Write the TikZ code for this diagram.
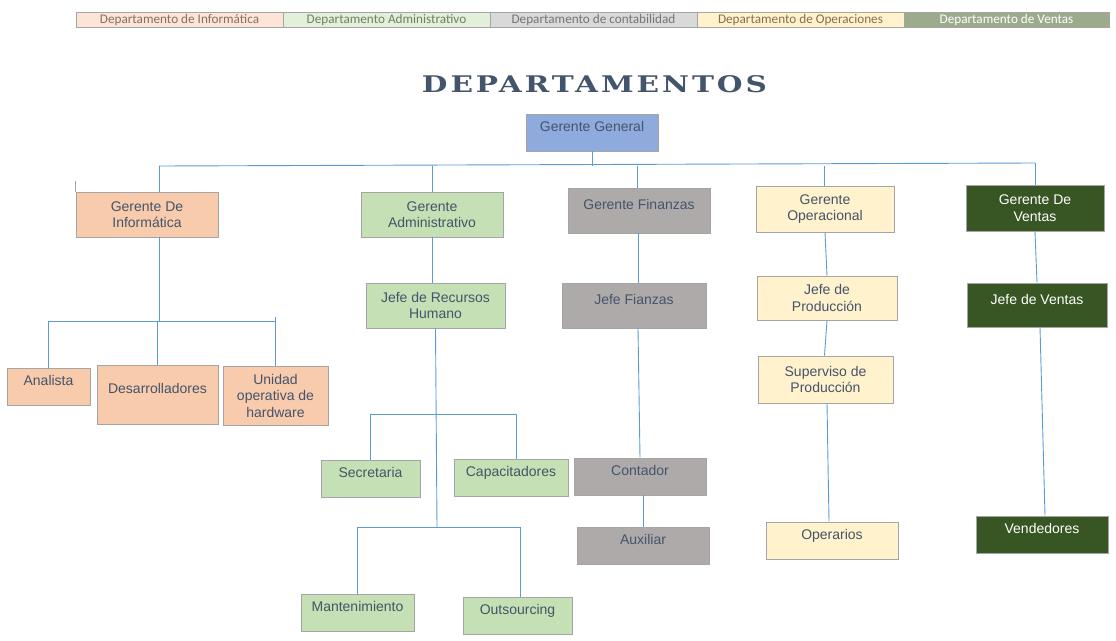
\documentclass[tikz,border=0pt]{standalone}
\usepackage{fontspec}
\usepackage{graphicx}
\setmainfont{Liberation Sans}
\newfontfamily\legfont{Carlito}
\newfontfamily\titfont[LetterSpace=10]{DejaVu Serif}
\definecolor{texto}{HTML}{44546A}
\definecolor{borde}{HTML}{A5A5A5}
\definecolor{azul}{HTML}{5B9BD5}
\definecolor{ggc}{HTML}{8FAADC}
\definecolor{infc}{HTML}{F8CBAD}
\definecolor{admc}{HTML}{C5E0B4}
\definecolor{finc}{HTML}{AEAAAA}
\definecolor{opec}{HTML}{FFF2CC}
\definecolor{venc}{HTML}{375623}
\definecolor{leginf}{HTML}{FCE4D6}
\definecolor{legadm}{HTML}{E2EFDA}
\definecolor{legcon}{HTML}{D9D9D9}
\definecolor{legven}{HTML}{9CAB8C}
\definecolor{legtinf}{HTML}{8C6E62}
\definecolor{legtadm}{HTML}{6E8262}
\definecolor{legtcon}{HTML}{757575}
\definecolor{legtope}{HTML}{85704A}
\begin{document}
\begin{tikzpicture}[
        x=1pt,y=-1pt,
        caja/.style 2 args={draw=borde,line width=.8pt,minimum width=#1pt,minimum height=#2pt,
            inner sep=0pt,align=center,text=texto,font=\fontsize{14}{16.5}\selectfont},
        alto/.style={text height=10pt,text depth=12pt},
        linea/.style={draw=azul,line width=.9pt},
        leg/.style={draw=borde,line width=.6pt,minimum width=207pt,minimum height=15pt,
            inner sep=0pt,font=\legfont\fontsize{13.2}{14}\selectfont},
        ]
        \useasboundingbox (0,0) rectangle (1116,640);
        % leyenda
        \node[leg,fill=leginf,text=legtinf] (l1) at (179.5,19.5) {Departamento de Informática};
        \node[leg,fill=legadm,text=legtadm] (l2) at (386.5,19.5) {Departamento Administrativo};
        \node[leg,fill=legcon,text=legtcon] (l3) at (593.5,19.5) {Departamento de contabilidad};
        \node[leg,fill=opec,text=legtope] (l4) at (800.5,19.5) {Departamento de Operaciones};
        \node[leg,fill=legven,text=white,minimum width=205pt] (l5) at (1006.5,19.5) {Departamento de Ventas};
        \node[text=texto,inner sep=0pt] (tit) at (594.5,84.5) {\resizebox{345pt}{17pt}{\titfont\bfseries DEPARTAMENTOS}};
        % cajas
        \node[caja={132}{37},alto,fill=ggc] (gg) at (592,132.5) {Gerente General};
        \node[caja={142}{45},fill=infc] (ginf) at (147,214.5) {Gerente De\\Informática};
        \node[caja={142}{45},fill=admc] (gadm) at (432,214.5) {Gerente\\Administrativo};
        \node[caja={142}{45},alto,fill=finc] (gfin) at (639,210.5) {Gerente Finanzas};
        \node[caja={138}{46},fill=opec] (gope) at (825,209) {Gerente\\Operacional};
        \node[caja={138}{46},fill=venc,text=white] (gven) at (1035,208) {Gerente De\\Ventas};
        \node[caja={83}{37},alto,fill=infc] (ana) at (48.5,386.5) {Analista};
        \node[caja={121}{59},alto,fill=infc] (des) at (157.5,394.5) {Desarrolladores};
        \node[caja={105}{59},fill=infc] (uni) at (275.5,395.5) {Unidad\\operativa de\\hardware};
        \node[caja={139}{45},fill=admc] (jrh) at (435.5,305.5) {Jefe de Recursos\\Humano};
        \node[caja={99}{37},alto,fill=admc] (sec) at (370.5,478.5) {Secretaria};
        \node[caja={114}{37},alto,fill=admc] (cap) at (511,477.5) {Capacitadores};
        \node[caja={113}{37},alto,fill=admc] (man) at (357.5,612.5) {Mantenimiento};
        \node[caja={109}{37},alto,fill=admc] (out) at (517.5,615.5) {Outsourcing};
        \node[caja={144}{45},alto,fill=finc] (jfin) at (634,305.5) {Jefe Fianzas};
        \node[caja={132}{37},alto,fill=finc] (cont) at (640,476.5) {Contador};
        \node[caja={132}{37},alto,fill=finc] (aux) at (643,545.5) {Auxiliar};
        \node[caja={140}{44},fill=opec] (jpro) at (827,298) {Jefe de\\Producción};
        \node[caja={135}{47},fill=opec] (sup) at (825.5,379.5) {Superviso de\\Producción};
        \node[caja={132}{37},alto,fill=opec] (opr) at (832,540.5) {Operarios};
        \node[caja={140}{44},alto,fill=venc,text=white] (jven) at (1037,305) {Jefe de Ventas};
        \node[caja={132}{37},alto,fill=venc,text=white] (ven) at (1042,534.5) {Vendedores};
        % conectores
        \coordinate (bi) at (159,166);
        \coordinate (bd) at (1035,163);
        \draw[linea] (bi) -- (bd);
        \draw[linea] (gg.south) -- (gg.south |- bi);
        \draw[linea] ([xshift=12pt]ginf.north) -- (bi);
        \draw[draw=borde,line width=.8pt] (ginf.north west) -- ++(0,-11);
        \draw[linea] (gadm.north) -- (gadm.north |- bi);
        \draw[linea] ([xshift=-2pt]gfin.north) -- ([xshift=-2pt]gfin.north |- bi);
        \draw[linea] ([xshift=-1pt]gope.north) -- ([xshift=-1pt]gope.north |- bi);
        \draw[linea] (gven.north) -- (bd);
        \coordinate (ti) at (159,321);
        \draw[linea] ([xshift=12pt]ginf.south) -- (ti);
        \draw[linea] (ana.north) -- (ana.north |- ti) -- (uni.north |- ti);
        \draw[linea] (des.north) -- (des.north |- ti);
        \draw[linea] (uni.north) -- ([yshift=4pt]uni.north |- ti);
        \draw[linea] (gadm.south) -- (gadm.south |- jrh.north);
        \coordinate (ta) at (436,414);
        \coordinate (tb) at (437,527);
        \draw[linea] (jrh.south) -- (tb);
        \draw[linea] (sec.north) -- (sec.north |- ta) -- ([xshift=5pt]cap.north |- ta) -- ([xshift=5pt]cap.north);
        \draw[linea] (man.north) -- (man.north |- tb) -- ([xshift=3pt]out.north |- tb) -- ([xshift=3pt]out.north);
        \draw[linea] ([xshift=-1pt]gfin.south) -- ([xshift=4pt]jfin.north);
        \draw[linea] ([xshift=4pt]jfin.south) -- (cont.north);
        \draw[linea] ([xshift=3pt]cont.south) -- (aux.north);
        \draw[linea] (gope.south) -- (jpro.north);
        \draw[linea] (jpro.south) -- ([xshift=-1pt]sup.north);
        \draw[linea] ([xshift=1.5pt]sup.south) -- ([xshift=-3pt]opr.north);
        \draw[linea] (gven.south) -- (jven.north);
        \draw[linea] ([xshift=3pt]jven.south) -- ([xshift=3pt]ven.north);
\end{tikzpicture}
\end{document}
